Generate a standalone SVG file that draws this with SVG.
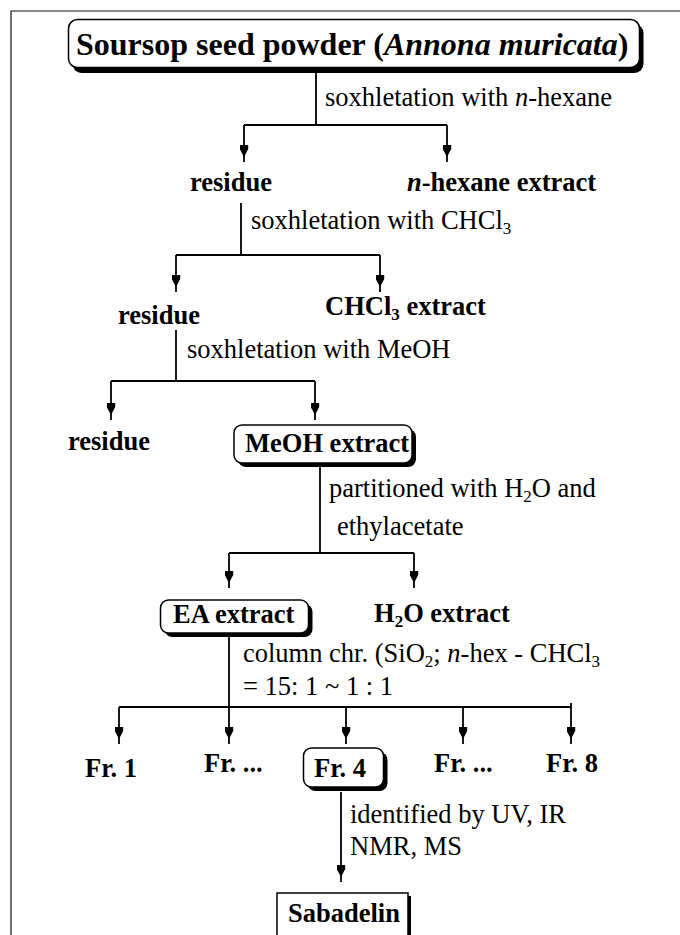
<svg xmlns="http://www.w3.org/2000/svg" width="680" height="935" viewBox="0 0 680 935">
<style>
text{font-family:"Liberation Serif","Times New Roman",serif;fill:#000}
.b{font-weight:bold;font-size:26.5px}
.r{font-size:26.5px}
.t{font-weight:bold;font-size:32px}
.s{font-size:17px}
.ln{stroke:#000;stroke-width:1.8;fill:none}
.ar{stroke:#000;stroke-width:1.8;fill:none;marker-end:url(#ah)}
.box{fill:#fff;stroke:#000;stroke-width:1.5}
.sh{fill:#000}
.frame{fill:none;stroke:#111;stroke-width:1.2}
</style>
<defs>
<marker id="ah" viewBox="0 0 17 9" refX="17" refY="4.5" markerWidth="17" markerHeight="9" markerUnits="userSpaceOnUse" orient="auto">
<path d="M0,0.3 L4,0.3 L12,4.5 L4,8.7 L0,8.7 z" fill="#000"/>
</marker>
</defs>
<path class="frame" d="M11,935 V11 H680"/>
<g id="connectors">
<path class="ln" d="M316,70 V125 M244,125 H447"/>
<path class="ar" d="M244,125 V162"/>
<path class="ar" d="M447,125 V162"/>
<path class="ln" d="M241,203 V255 M176,255 H380"/>
<path class="ar" d="M176,255 V292"/>
<path class="ar" d="M380,255 V292"/>
<path class="ln" d="M176,330 V381 M111,381 H315"/>
<path class="ar" d="M111,381 V420"/>
<path class="ar" d="M315,381 V420"/>
<path class="ln" d="M320,467 V553 M229,553 H414"/>
<path class="ar" d="M229,553 V588"/>
<path class="ar" d="M414,553 V588"/>
<path class="ln" d="M229,637 V707 M119,707 H571"/>
<path class="ar" d="M119,707 V744"/>
<path class="ar" d="M229,707 V744"/>
<path class="ar" d="M346,707 V744"/>
<path class="ar" d="M463,707 V744"/>
<path class="ar" d="M571,703 V744"/>
<path class="ar" d="M341,792 V882"/>
</g>
<g id="title">
<rect class="sh" x="72.5" y="24" width="571" height="49" rx="9"/>
<rect class="box" x="68.5" y="19.5" width="571" height="48" rx="9"/>
<text class="t" x="76" y="55">Soursop seed powder (<tspan font-style="italic">Annona muricata</tspan>)</text>
</g>
<text class="r" x="325" y="106">soxhletation with <tspan font-style="italic">n</tspan>-hexane</text>
<g id="residue1"><text class="b" x="190" y="191">residue</text></g>
<g id="hexane"><text class="b" x="407" y="191"><tspan font-style="italic">n</tspan>-hexane extract</text></g>
<text class="r" x="251" y="229">soxhletation with CHCl<tspan class="s" dy="5">3</tspan></text>
<g id="residue2"><text class="b" x="118" y="324">residue</text></g>
<g id="chcl3"><text class="b" x="325" y="315">CHCl<tspan class="s" dy="5">3</tspan><tspan dy="-5"> extract</tspan></text></g>
<text class="r" x="187" y="358">soxhletation with MeOH</text>
<g id="residue3"><text class="b" x="68" y="450">residue</text></g>
<g id="meoh">
<rect class="sh" x="238" y="429" width="178" height="38" rx="8"/>
<rect class="box" x="234" y="425" width="178" height="38" rx="8"/>
<text class="b" x="245" y="452">MeOH extract</text>
</g>
<text class="r" x="329" y="497">partitioned with H<tspan class="s" dy="5">2</tspan><tspan dy="-5">O and</tspan></text>
<text class="r" x="337" y="535">ethylacetate</text>
<g id="ea">
<rect class="sh" x="164.5" y="604" width="148" height="33" rx="8"/>
<rect class="box" x="160.5" y="600" width="148" height="33" rx="8"/>
<text class="b" x="173" y="623">EA extract</text>
</g>
<g id="h2o"><text class="b" x="374" y="622">H<tspan class="s" dy="5">2</tspan><tspan dy="-5">O extract</tspan></text></g>
<text class="r" x="243" y="662">column chr. (SiO<tspan class="s" dy="5">2</tspan><tspan dy="-5">; </tspan><tspan font-style="italic">n</tspan>-hex - CHCl<tspan class="s" dy="5">3</tspan></text>
<text class="r" x="243" y="695">= 15: 1 ~ 1 : 1</text>
<g id="fr1"><text class="b" x="85" y="777">Fr. 1</text></g>
<g id="fr2"><text class="b" x="204" y="772">Fr. ...</text></g>
<g id="fr4">
<rect class="sh" x="307.5" y="752" width="80" height="39" rx="8"/>
<rect class="box" x="303.5" y="748" width="80" height="39" rx="8"/>
<text class="b" x="314" y="777">Fr. 4</text>
</g>
<g id="fr5"><text class="b" x="434" y="772">Fr. ...</text></g>
<g id="fr8"><text class="b" x="546" y="772">Fr. 8</text></g>
<text class="r" x="350" y="823">identified by UV, IR</text>
<text class="r" x="350" y="855">NMR, MS</text>
<g id="sabadelin">
<rect class="sh" x="280" y="896" width="131" height="50"/>
<rect class="box" x="277" y="893" width="131" height="50"/>
<text class="b" x="288" y="922">Sabadelin</text>
</g>
</svg>
